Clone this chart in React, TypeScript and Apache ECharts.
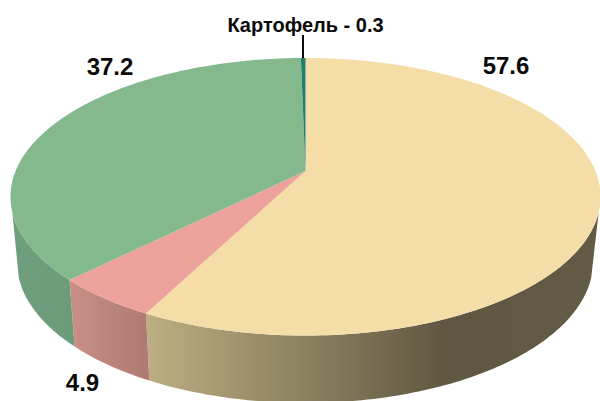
import React, { useEffect, useRef } from "react";
import * as echarts from "echarts";

const values = [57.6, 4.9, 37.2, 0.3];
const labelNames = ["", "", "", "Картофель"];
const topColors = ["#F4DDA6", "#EDA39B", "#84B98D", "#21806B"];

// Perspective projection of the pie's circular faces
const TOP = { cx: 305.5, cy: 171, a: 289.9, b: 134, k: 0.1857 };
const BOTTOM = { cx: 305, cy: 235.8, a: 283, b: 136.1, k: 0.1857 };
const VISIBLE_FROM = 107;
const VISIBLE_TO = 253;
const STEP = 1;

type Plane = typeof TOP;
const project = (p: Plane, deg: number): number[] => {
  const t = (deg * Math.PI) / 180;
  const d = 1 + p.k * Math.cos(t);
  return [p.cx + (p.a * Math.sin(t)) / d, p.cy - (p.b * Math.cos(t)) / d];
};

const arcPoints = (p: Plane, from: number, to: number): number[][] => {
  const out: number[][] = [];
  const n = Math.max(1, Math.ceil((to - from) / STEP));
  for (let i = 0; i <= n; i++) out.push(project(p, from + ((to - from) * i) / n));
  return out;
};

const total = values.reduce((s, v) => s + v, 0);
const sliceRange = (index: number): number[] => {
  let before = 0;
  for (let i = 0; i < index; i++) before += values[i];
  return [(before / total) * 360, ((before + values[index]) / total) * 360];
};

const wallFill = (index: number): any => {
  const stops: Record<number, [number, string][]> = {
    0: [[0, "#BCAE82"], [0.66, "#5F5741"], [1, "#625B45"]],
    1: [[0, "#C98F86"], [1, "#AD7971"]],
    2: [[0, "#709F7D"], [1, "#6C9B79"]],
    3: [[0, "#1A6655"], [1, "#1A6655"]],
  };
  const spans: Record<number, number[]> = { 0: [149, 600], 1: [72, 151], 2: [13, 76], 3: [300, 306] };
  return {
    type: "linear",
    global: true,
    x: spans[index][0],
    y: 0,
    x2: spans[index][1],
    y2: 0,
    colorStops: stops[index].map(([offset, color]) => ({ offset, color })),
  };
};

const renderWall = (params: any, api: any) => {
  const i = params.dataIndex;
  api.value(0);
  const [s, e] = sliceRange(i);
  const from = Math.max(s, VISIBLE_FROM);
  const to = Math.min(e, VISIBLE_TO);
  if (to <= from) return { type: "group", children: [] };
  const points = [...arcPoints(TOP, from, to), ...arcPoints(BOTTOM, from, to).reverse()];
  return { type: "polygon", shape: { points }, style: { fill: wallFill(i) }, silent: true };
};

const renderTop = (params: any, api: any) => {
  const i = params.dataIndex;
  api.value(0);
  const [s, e] = sliceRange(i);
  const points = [[TOP.cx, TOP.cy], ...arcPoints(TOP, s, e)];
  return { type: "polygon", shape: { points }, style: { fill: topColors[i] }, silent: true };
};

const labelStyle = (text: string, x: number, y: number, size: number) => ({
  type: "text",
  x,
  y,
  silent: true,
  style: {
    text,
    fill: "#0A0A0A",
    font: `bold ${size}px "Liberation Sans", Arial, sans-serif`,
    textAlign: "center",
    textVerticalAlign: "middle",
  },
});

export default function App() {
  const ref = useRef<HTMLDivElement>(null);
  useEffect(() => {
    document.body.style.margin = "0";
    const chart = echarts.init(ref.current!, undefined, { renderer: "svg" });
    const data = values.map((v) => [v]);
    chart.setOption({
      animation: false,
      backgroundColor: "#FFFFFF",
      series: [
        { type: "custom", coordinateSystem: "none", renderItem: renderWall, data, z: 1, silent: true },
        { type: "custom", coordinateSystem: "none", renderItem: renderTop, data, z: 2, silent: true },
      ],
      graphic: [
        { type: "line", shape: { x1: 303, y1: 35, x2: 303, y2: 58 }, style: { stroke: "#0A0A0A", lineWidth: 2 }, z: 5, silent: true },
        labelStyle(`${labelNames[3]} - ${values[3]}`, 305.5, 25, 20),
        labelStyle(String(values[0]), 506, 65, 24),
        labelStyle(String(values[2]), 110, 66, 24),
        labelStyle(String(values[1]), 82.5, 382, 24),
      ],
    });
    return () => chart.dispose();
  }, []);
  return <div ref={ref} style={{ width: 600, height: 401 }} />;
}
